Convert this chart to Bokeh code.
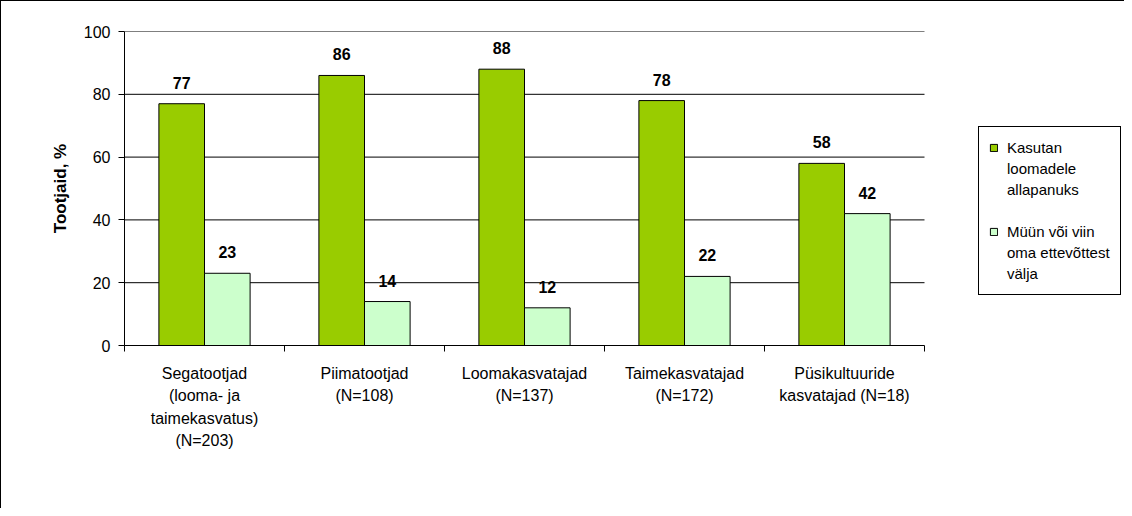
from bokeh.plotting import figure
from bokeh.models import (ColumnDataSource, Range1d, FixedTicker, Legend, LegendItem)
from bokeh.transform import dodge
from bokeh.core.properties import value
from bokeh.embed import file_html
from bokeh.resources import INLINE

# ---- data ----
categories = [
    "Segatootjad\n(looma- ja\ntaimekasvatus)\n(N=203)",
    "Piimatootjad\n(N=108)",
    "Loomakasvatajad\n(N=137)",
    "Taimekasvatajad\n(N=172)",
    "Püsikultuuride\nkasvatajad (N=18)",
]
series_names = [["Kasutan", "loomadele", "allapanuks"],
                ["Müün või viin", "oma ettevõttest", "välja"]]
kasutan = [77, 86, 88, 78, 58]
muun = [23, 14, 12, 22, 42]
y_ticks = [0, 20, 40, 60, 80, 100]

FONT = "Liberation Sans"
GREEN = "#99CC00"
LIGHT = "#CCFFCC"

n = len(categories)
centers = [i + 0.5 for i in range(n)]   # category slot centres on a 0..n axis

FIG_W, FIG_H = 1124, 508
BORDER_L, BORDER_T, BORDER_B = 123, 30, 164
PLOT_W = 800                           # width of the bar area in px
frame_w = FIG_W - BORDER_L
x_end = n * frame_w / PLOT_W           # leave room on the right for the legend

src = ColumnDataSource(dict(
    xc=centers,
    kasutan=kasutan,
    muun=muun,
    kasutan_lbl=[str(v) for v in kasutan],
    muun_lbl=[str(v) for v in muun],
))

p = figure(
    width=FIG_W, height=FIG_H,
    x_range=Range1d(0, x_end), y_range=Range1d(0, 100),
    output_backend="svg", toolbar_location=None,
    min_border_left=BORDER_L, min_border_right=0, min_border_top=BORDER_T,
    min_border_bottom=BORDER_B,
)
p.outline_line_color = None
p.background_fill_color = "white"
p.border_fill_color = "white"
p.styles = {"border-left": "1px solid black", "border-top": "1px solid black"}

# horizontal grid lines, only across the bar area
p.xgrid.visible = False
p.ygrid.visible = False
gsrc = ColumnDataSource(dict(y=y_ticks[1:], x0=[0] * (len(y_ticks) - 1),
                             x1=[n] * (len(y_ticks) - 1)))
p.segment(x0="x0", x1="x1", y0="y", y1="y", source=gsrc, line_color="black", line_width=1)

# bars
bw = 0.285
r1 = p.vbar(x=dodge("xc", -bw / 2), top="kasutan", width=bw, source=src,
            fill_color=GREEN, line_color="black", line_width=1)
r2 = p.vbar(x=dodge("xc", bw / 2), top="muun", width=bw, source=src,
            fill_color=LIGHT, line_color="black", line_width=1)
blank = p.vbar(x=[], top=[], width=bw, fill_alpha=0, line_alpha=0)

# value labels
for col, off in (("kasutan", -bw / 2), ("muun", bw / 2)):
    p.text(x=dodge("xc", off), y=col, text=col + "_lbl", source=src,
           text_font=value(FONT), text_font_style="bold", text_font_size="16px",
           text_align="center", text_baseline="bottom", y_offset=-15, text_color="black")

# y axis
ya = p.yaxis[0]
ya.ticker = FixedTicker(ticks=y_ticks)
ya.axis_label = "Tootjaid, %"
ya.axis_label_text_font = FONT
ya.axis_label_text_font_style = "bold"
ya.axis_label_text_font_size = "17px"
ya.axis_label_text_color = "black"
ya.axis_label_standoff = 11
ya.major_label_text_font = FONT
ya.major_label_text_font_size = "16px"
ya.major_label_text_color = "black"
ya.major_label_standoff = 8
ya.major_tick_out = 6
ya.major_tick_in = 0
ya.minor_tick_out = 0
ya.minor_tick_in = 0
ya.axis_line_color = "black"
ya.major_tick_line_color = "black"

# x axis: labels at category centres, tick marks at category boundaries
xa = p.xaxis[0]
xa.bounds = (0, n)
xa.ticker = FixedTicker(ticks=centers, minor_ticks=list(range(n + 1)))
xa.major_label_overrides = {c: lbl for c, lbl in zip(centers, categories)}
xa.major_label_text_font = FONT
xa.major_label_text_font_size = "16px"
xa.major_label_text_color = "black"
xa.major_label_text_line_height = 1.33
xa.major_label_standoff = 13
xa.major_tick_out = 0
xa.major_tick_in = 0
xa.minor_tick_out = 6
xa.minor_tick_in = 0
xa.minor_tick_line_color = "black"
xa.axis_line_color = "black"

# legend: one row per text line, marker on the first line of each entry
items = []
for gi, (lines, rend) in enumerate(zip(series_names, [r1, r2])):
    if gi > 0:
        items.append(LegendItem(label=" ", renderers=[blank]))
    for li, line in enumerate(lines):
        items.append(LegendItem(label=line, renderers=[rend if li == 0 else blank]))

legend = Legend(items=items, location=(854, 50))
legend.label_text_font = FONT
legend.label_text_font_size = "15px"
legend.label_text_color = "black"
legend.label_height = 21
legend.glyph_width = 9
legend.glyph_height = 9
legend.label_standoff = 9
legend.padding = 10
legend.spacing = 0
legend.border_line_color = "black"
legend.border_line_alpha = 1
legend.border_line_width = 1
legend.background_fill_color = "white"
legend.background_fill_alpha = 1
legend.margin = 0
p.add_layout(legend, "center")

open("out.html", "w").write(file_html(p, INLINE))
